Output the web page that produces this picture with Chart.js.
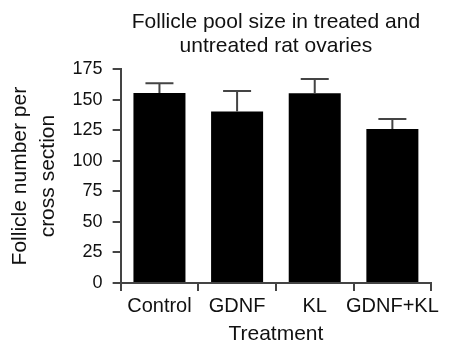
<!DOCTYPE html>
<html>
<head>
<meta charset="utf-8">
<script src="https://cdn.jsdelivr.net/npm/chart.js@4"></script>
<style>
    body { margin: 0; background: #fff; }
</style>
</head>
<body>
<canvas id="myChart" width="449" height="349"></canvas>
<script>
const categories = ['Control', 'GDNF', 'KL', 'GDNF+KL']
const follicleMeans = [155.5, 140.5, 155.3, 126]
const follicleErrors = [8, 16.7, 11.7, 8.2]
const yTicks = [0, 25, 50, 75, 100, 125, 150, 175]

const lineCol = '#444'
const txtCol = '#111'
const fam = 'Liberation Sans'

// error bars (only the upper half shows above the black bars)
const errorBars = {
    id: 'errorBars',
    afterDatasetsDraw(chart) {
        const ctx = chart.ctx
        const meta = chart.getDatasetMeta(0)
        const y = chart.scales.y
        ctx.save()
        ctx.strokeStyle = lineCol
        ctx.lineWidth = 2
        meta.data.forEach((bar, i) => {
            let top = y.getPixelForValue(follicleMeans[i] + follicleErrors[i])
            let half = 14
            ctx.beginPath()
            ctx.moveTo(bar.x, bar.y)
            ctx.lineTo(bar.x, top)
            ctx.moveTo(bar.x - half, top)
            ctx.lineTo(bar.x + half, top)
            ctx.stroke()
        })
        ctx.restore()
    }
}

const ctx = document.getElementById('myChart').getContext('2d')
const myChart = new Chart(ctx, {
    type: 'bar',
    data: {
        labels: categories,
        datasets: [{
            data: follicleMeans,
            backgroundColor: '#000',
            borderWidth: 0,
            categoryPercentage: 0.67,
            barPercentage: 1
        }]
    },
    plugins: [errorBars],
    options: {
        responsive: false,
        animation: false,
        layout: { padding: { left: 7, right: 10, top: 10, bottom: 3 } },
        plugins: {
            legend: { display: false },
            tooltip: { enabled: false },
            title: {
                display: true,
                fullSize: false,
                text: ['Follicle pool size in treated and', 'untreated rat ovaries'],
                color: txtCol,
                font: { family: fam, size: 21, weight: 'normal', lineHeight: 1.15 },
                padding: { top: 0, bottom: 11 }
            }
        },
        scales: {
            x: {
                grid: { drawOnChartArea: false, color: lineCol, lineWidth: 2, tickLength: 8 },
                border: { color: lineCol, width: 2 },
                ticks: {
                    color: txtCol, padding: 8, maxRotation: 0, autoSkip: false,
                    font: { family: fam, size: 20, lineHeight: 0.8 }
                },
                title: {
                    display: true,
                    text: 'Treatment',
                    color: txtCol,
                    font: { family: fam, size: 21, lineHeight: 1.1 },
                    padding: { top: 0, bottom: 0 }
                }
            },
            y: {
                min: 0,
                max: 175,
                afterBuildTicks: axis => { axis.ticks = yTicks.map(v => ({ value: v })) },
                grid: { drawOnChartArea: false, color: lineCol, lineWidth: 2, tickLength: 8 },
                border: { color: lineCol, width: 2 },
                ticks: { color: txtCol, padding: 10, font: { family: fam, size: 18 } },
                title: {
                    display: true,
                    text: ['Follicle number per', 'cross section'],
                    color: txtCol,
                    font: { family: fam, size: 21, lineHeight: 1.3 },
                    padding: { top: 0, bottom: 1 }
                }
            }
        }
    }
});
</script>
</body>
</html>
